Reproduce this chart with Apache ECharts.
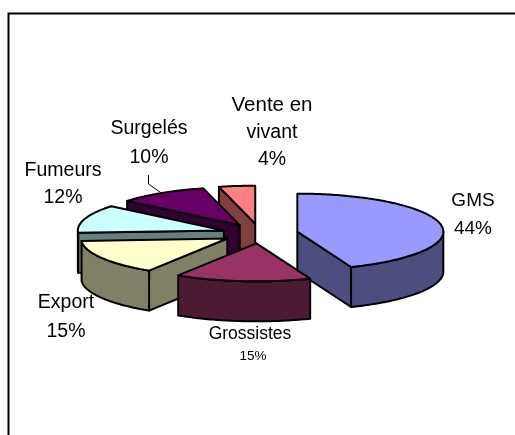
<!DOCTYPE html>
<html>
<head>
<meta charset="utf-8">
<title>Circuits de vente</title>
<script src="https://cdn.jsdelivr.net/npm/echarts@6/dist/echarts.min.js"></script>
<style>
  html, body { margin: 0; padding: 0; background: #fff; overflow: hidden; }
  #chart { width: 515px; height: 435px; }
</style>
</head>
<body>
<div id="chart"></div>
<script>
// Values, clockwise from 12 o'clock
const categories = ['GMS', 'Grossistes', 'Export', 'Fumeurs', 'Surgelés', 'Vente en\nvivant'];
const shares = [44, 15, 15, 12, 10, 4];

const topColors = ['#9999FF', '#993366', '#FFFFCC', '#CCFFFF', '#660066', '#FF8080'];
const wallColors = ['#4D4D80', '#4D1A33', '#808066', '#668080', '#330033', '#804040'];

// Back to front
const drawOrder = [5, 4, 3, 2, 1, 0];

// Pie layout in pixels
const CX = 260;
const CY = 233.5;
const RX = 146;
const RY = 38;
const DEPTH = 40;
const EXPLODE = 38;
const LINE_W = 2;

// Label layout: centre x and y of each line, same order as categories
const labelX = [[473, 473], [250, 253], [66, 66], [63, 63], [149, 149], [272, 272, 272]];
const labelY = [[201, 229], [334, 356], [303, 332], [171, 198], [129, 158], [105, 132.5, 160]];
const labelSize = [[19, 19], [17.5, 13.5], [19.5, 19.5], [19.5, 19.5], [19.5, 19.5], [20.5, 19.5, 19.5]];
const leaderSlice = 4;
const leaderStart = [[148.5, 175], [148.5, 184]];

const toRad = (deg) => (deg * Math.PI) / 180;

// Angles of each slice from the shares
const total = shares.reduce((a, b) => a + b, 0);
const startAngle = [];
const endAngle = [];
let running = 0;
shares.forEach((v, i) => {
  startAngle[i] = (running / total) * 360;
  running += v;
  endAngle[i] = (running / total) * 360;
});

const rimPoint = (cx, cy, deg, dz = 0) => [
  cx + RX * Math.sin(toRad(deg)),
  cy - RY * Math.cos(toRad(deg)) + dz,
];

const sliceCenter = (i) => {
  const mid = (startAngle[i] + endAngle[i]) / 2;
  return [
    CX + EXPLODE * Math.sin(toRad(mid)),
    CY - EXPLODE * (RY / RX) * Math.cos(toRad(mid)),
  ];
};

const arcPoints = (cx, cy, from, to, dz = 0) => {
  const pts = [];
  const steps = Math.max(2, Math.ceil(to - from));
  for (let s = 0; s <= steps; s++) {
    pts.push(rimPoint(cx, cy, from + ((to - from) * s) / steps, dz));
  }
  return pts;
};

const face = (points, fill, z2) => ({
  type: 'polygon',
  z2,
  shape: { points },
  style: { fill, stroke: '#000', lineWidth: LINE_W, lineJoin: 'round' },
});

const renderSlice = (params, api) => {
  const i = api.value(0);
  const [cx, cy] = sliceCenter(i);
  const a0 = startAngle[i];
  const a1 = endAngle[i];
  const wall = wallColors[i];
  const children = [];

  // Flat cut faces, only the ones turned toward the viewer
  if (Math.sin(toRad(a0)) < 0) {
    const p = rimPoint(cx, cy, a0);
    children.push(face([[cx, cy], p, [p[0], p[1] + DEPTH], [cx, cy + DEPTH]], wall, 1));
  }
  if (Math.sin(toRad(a1)) > 0) {
    const p = rimPoint(cx, cy, a1);
    children.push(face([[cx, cy], p, [p[0], p[1] + DEPTH], [cx, cy + DEPTH]], wall, 1));
  }

  // Outer rim, front half only
  const from = Math.max(a0, 90);
  const to = Math.min(a1, 270);
  if (to > from) {
    const upper = arcPoints(cx, cy, from, to);
    const lower = arcPoints(cx, cy, from, to, DEPTH).reverse();
    children.push(face(upper.concat(lower), wall, 2));
  }

  children.push(face([[cx, cy]].concat(arcPoints(cx, cy, a0, a1)), topColors[i], 3));
  return { type: 'group', children };
};

const renderLabel = (params, api) => {
  const i = api.value(0);
  const lines = categories[i].split('\n').concat(shares[i] + '%');
  const children = lines.map((text, n) => ({
    type: 'text',
    style: {
      text,
      x: labelX[i][n],
      y: labelY[i][n],
      align: 'center',
      verticalAlign: 'middle',
      fill: '#000',
      font: labelSize[i][n] + 'px "Liberation Sans", Arial, sans-serif',
    },
  }));
  if (i === leaderSlice) {
    const [cx, cy] = sliceCenter(i);
    const mid = (startAngle[i] + endAngle[i]) / 2;
    children.push({
      type: 'polyline',
      shape: { points: leaderStart.concat([rimPoint(cx, cy, mid)]) },
      style: { fill: 'none', stroke: '#000', lineWidth: 1 },
    });
  }
  return { type: 'group', children };
};

const chart = echarts.init(document.getElementById('chart'), null, { renderer: 'canvas' });

chart.setOption({
  animation: false,
  backgroundColor: '#fff',
  graphic: [
    {
      type: 'polyline',
      silent: true,
      shape: { points: [[8.5, 435], [8.5, 13.5], [515, 13.5]] },
      style: { fill: 'none', stroke: '#000', lineWidth: 2 },
    },
  ],
  series: [
    {
      type: 'custom',
      coordinateSystem: 'none',
      silent: true,
      z: 2,
      data: drawOrder.map((i) => [i]),
      renderItem: renderSlice,
    },
    {
      type: 'custom',
      coordinateSystem: 'none',
      silent: true,
      z: 3,
      data: categories.map((c, i) => [i]),
      renderItem: renderLabel,
    },
  ],
});

window.addEventListener('resize', () => chart.resize());
</script>
</body>
</html>
